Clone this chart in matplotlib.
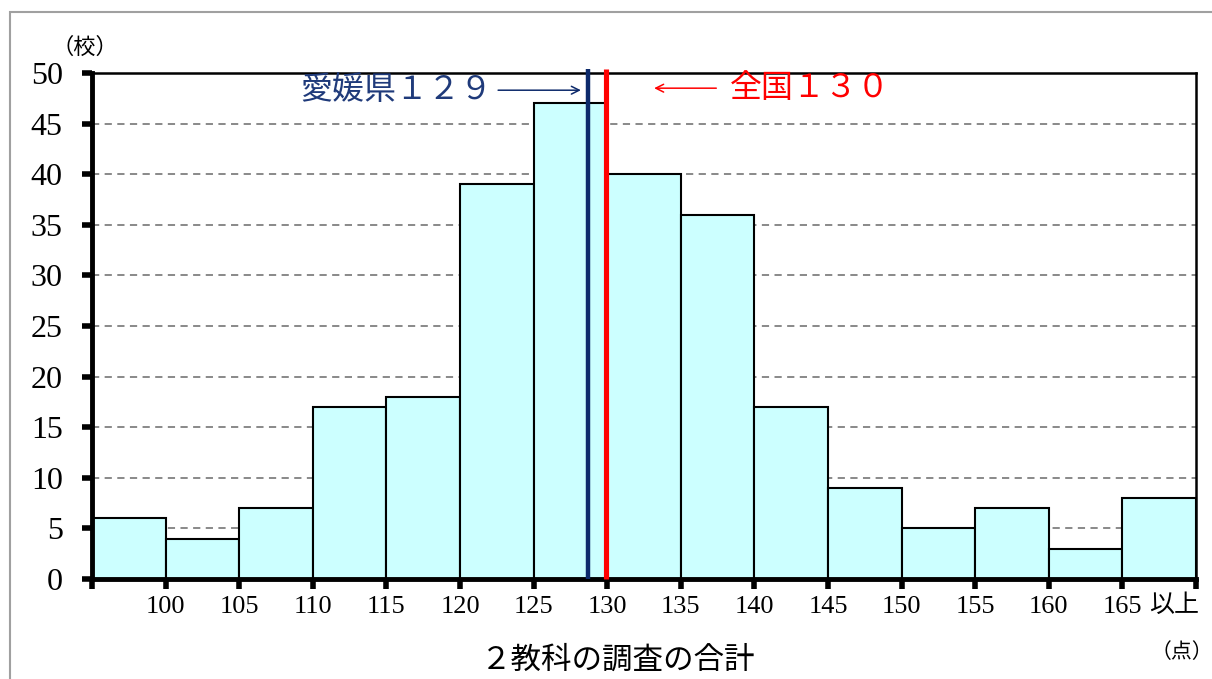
import matplotlib
matplotlib.use("Agg")
import matplotlib.pyplot as plt
from matplotlib.patches import Rectangle

bin_left = [95, 100, 105, 110, 115, 120, 125, 130, 135, 140, 145, 150, 155, 160, 165]
counts = [6, 4, 7, 17, 18, 39, 47, 40, 36, 17, 9, 5, 7, 3, 8]
tick_vals = [95, 100, 105, 110, 115, 120, 125, 130, 135, 140, 145, 150, 155, 160, 165, 170]
tick_labels = ["", "100", "105", "110", "115", "120", "125", "130", "135", "140",
               "145", "150", "155", "160", "165", ""]
ehime_avg = 128.7
national_avg = 129.9
ehime_label = "愛媛県１２９"
national_label = "全国１３０"

JP = ["Noto Sans CJK JP", "DejaVu Sans"]
SERIF = ["Liberation Serif", "DejaVu Serif"]

fig = plt.figure(figsize=(12.12, 6.79), dpi=100)
fig.patches.append(Rectangle((10/1212, -0.05), 1.1, 1 - 12/679 + 0.05,
                             transform=fig.transFigure, fill=False,
                             edgecolor="#a0a0a0", linewidth=1.5))
ax = fig.add_axes([92/1212, 1 - 579/679, (1196-92)/1212, (579-73)/679])

ax.bar(bin_left, counts, width=5, align="edge", color="#CCFFFF",
       edgecolor="black", linewidth=1.5, zorder=2)

ax.set_xlim(95, 170)
ax.set_ylim(0, 50)
ax.set_yticks(range(0, 51, 5))
ax.set_xticks(tick_vals)
ax.set_xticklabels(tick_labels)
for lbl in ax.get_yticklabels():
    lbl.set_fontfamily(SERIF)
    lbl.set_fontsize(23)
for lbl in ax.get_xticklabels():
    lbl.set_fontfamily(SERIF)
    lbl.set_fontsize(19)

ax.yaxis.grid(True, linestyle=(0, (4, 3)), color="#808080", linewidth=1.3, zorder=1)
ax.set_axisbelow(True)
ax.tick_params(axis="y", direction="out", length=7, width=4, pad=14)
ax.tick_params(axis="x", direction="out", length=7, width=4, pad=5)
ax.spines["left"].set_linewidth(3.5)
ax.spines["bottom"].set_linewidth(3.5)
ax.spines["top"].set_linewidth(1.8)
ax.spines["right"].set_linewidth(1.8)

ax.plot([ehime_avg, ehime_avg], [0, 50.4], color="#0d2a6b", linewidth=3.2,
        clip_on=False, zorder=4, solid_capstyle="butt")
ax.plot([national_avg, national_avg], [0, 50.4], color="#ff0000", linewidth=3.7,
        clip_on=False, zorder=4, solid_capstyle="butt")

ax.annotate("", xy=(ehime_avg - 0.3, 48.3), xytext=(ehime_avg - 6.3, 48.3),
            arrowprops=dict(arrowstyle="->", color="#0d2a6b", lw=1.1,
                            mutation_scale=14))
ax.text(ehime_avg - 6.5, 48.3, ehime_label, color="#1f3a7a", fontsize=23,
        family=JP, ha="right", va="center")
ax.annotate("", xy=(national_avg + 3.1, 48.5), xytext=(national_avg + 7.7, 48.5),
            arrowprops=dict(arrowstyle="->", color="#ff0000", lw=1.1,
                            mutation_scale=14))
ax.text(national_avg + 8.4, 48.5, national_label, color="#ff0000", fontsize=23,
        family=JP, ha="left", va="center")

ax.text(166.8, -2.6, "以上", fontsize=18, family=JP, ha="left", va="center")
fig.text(618/1212, 1 - 660/679, "２教科の調査の合計", fontsize=22, family=JP,
         ha="center", va="center")
fig.text(1182/1212, 1 - 652/679, "（点）", fontsize=15, family=JP,
         ha="center", va="center")
fig.text(85/1212, 1 - 47/679, "（校）", fontsize=16, family=JP,
         ha="center", va="center")

fig.savefig("out.png", dpi=100)
